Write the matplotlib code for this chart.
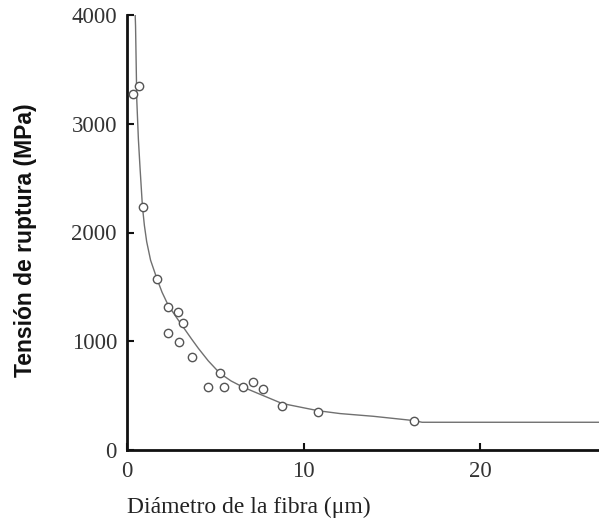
import matplotlib
matplotlib.use("Agg")
import matplotlib.pyplot as plt

# measured points (diameter um, strength MPa)
diam = [0.37, 0.70, 0.90, 1.70, 2.35, 2.92, 3.17, 2.35, 2.94, 3.71,
        5.27, 4.58, 5.52, 6.59, 7.16, 7.72, 8.78, 10.83, 16.26]
stress = [3271, 3347, 2237, 1575, 1315, 1272, 1165, 1073, 990, 858,
          705, 579, 579, 577, 628, 564, 405, 349, 269]

# fitted curve
curve_x = [0.48, 0.50, 0.57, 0.66, 0.75, 0.89, 1.00, 1.13, 1.35, 1.70,
           2.00, 2.35, 2.83, 3.11, 3.67, 4.05, 4.61, 5.27, 5.90, 6.59,
           7.72, 8.78, 10.83, 12.06, 13.94, 16.26, 16.70, 26.7]
curve_y = [4000, 3900, 3218, 2860, 2605, 2237, 2065, 1915, 1745, 1579,
           1450, 1330, 1215, 1150, 1020, 935, 820, 705, 635, 577,
           500, 428, 361, 335, 310, 270, 255, 255]

serif = "Liberation Serif"

fig = plt.figure(figsize=(5.99, 5.22), dpi=100)
ax = fig.add_axes([126.7 / 599, 72 / 522, 1 - 126.7 / 599, 435 / 522])

ax.plot(curve_x, curve_y, color="#707070", lw=1.0, zorder=2)
ax.plot(diam, stress, ls="none", marker="o", ms=6, mfc="white",
        mec="#555555", mew=1.0, zorder=3)

ax.set_xlim(0, 26.7)
ax.set_ylim(0, 4000)
ax.set_xticks([0, 10, 20])
ax.set_yticks([0, 1000, 2000, 3000, 4000])

for side in ["top", "right"]:
    ax.spines[side].set_visible(False)
for side in ["left", "bottom"]:
    ax.spines[side].set_linewidth(2)
    ax.spines[side].set_color("#111111")

ax.tick_params(direction="in", length=5, width=1.5, color="#111111",
               labelsize=16.5, labelcolor="#333333")
ax.tick_params(axis="y", pad=7)
ax.tick_params(axis="x", pad=8)
for lab in ax.get_xticklabels() + ax.get_yticklabels():
    lab.set_fontfamily(serif)

ax.set_ylabel("Tensión de ruptura (MPa)", fontsize=16.5, fontweight="bold",
              family="Liberation Sans", color="#111111")
ax.yaxis.set_label_coords(-0.19, 0.483)

fig.text(127 / 599, 1 - 507 / 522, "Diámetro de la fibra (μm)",
         family=serif, fontsize=17, color="#222222", ha="left", va="center")

fig.savefig("out.png", dpi=100)
